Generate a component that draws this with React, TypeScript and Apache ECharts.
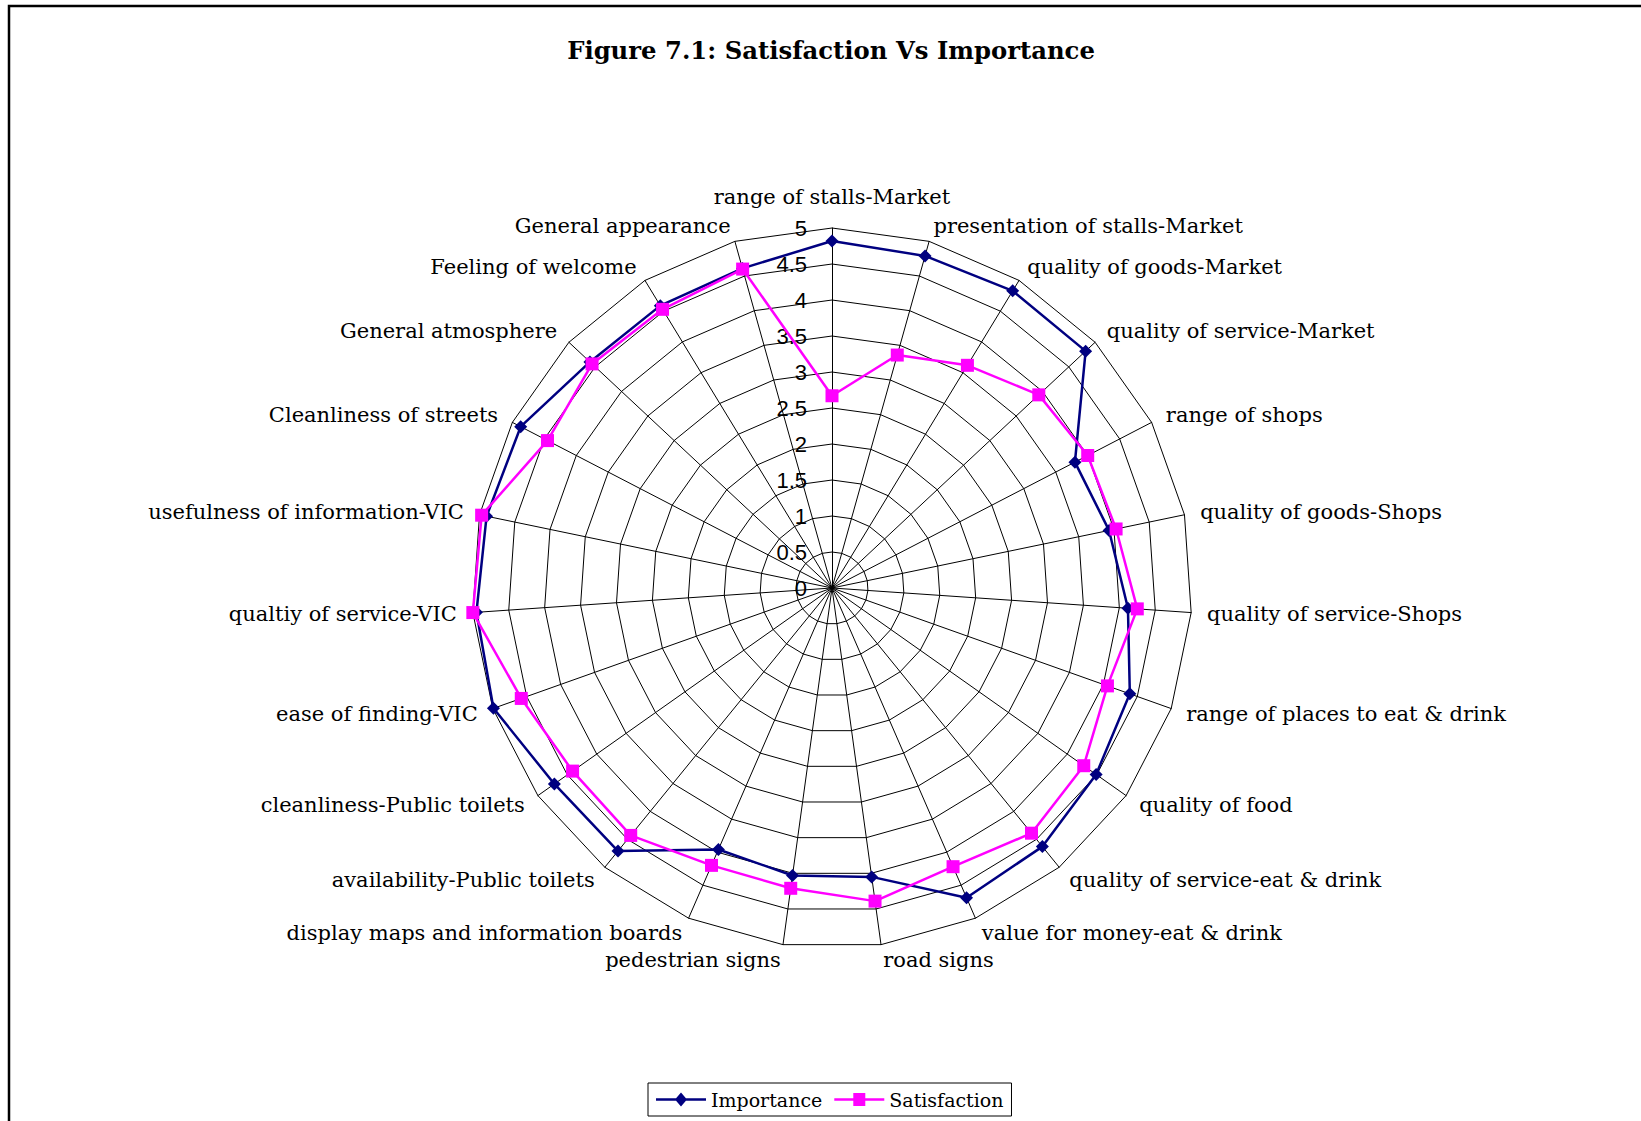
import React, { useEffect, useRef } from "react";
import * as echarts from "echarts";

const title = "Figure 7.1: Satisfaction Vs Importance";

// categories in clockwise order starting at the top
const categories = [
  "range of stalls-Market",
  "presentation of stalls-Market",
  "quality of goods-Market",
  "quality of service-Market",
  "range of shops",
  "quality of goods-Shops",
  "quality of service-Shops",
  "range of places to eat & drink",
  "quality of food",
  "quality of service-eat & drink",
  "value for money-eat & drink",
  "road signs",
  "pedestrian signs",
  "display maps and information boards",
  "availability-Public toilets",
  "cleanliness-Public toilets",
  "ease of finding-VIC",
  "qualtiy of service-VIC",
  "usefulness of information-VIC",
  "Cleanliness of streets",
  "General atmosphere",
  "Feeling of welcome",
  "General appearance",
];

const importance = [
  4.82, 4.79, 4.83, 4.82, 3.8, 3.93, 4.12, 4.39, 4.49, 4.63, 4.69, 4.05, 4.03,
  3.96, 4.71, 4.72, 4.99, 4.95, 4.9, 4.87, 4.6, 4.59, 4.61,
];

const satisfaction = [
  2.67, 3.36, 3.62, 3.93, 4.0, 4.03, 4.25, 4.06, 4.28, 4.39, 4.22, 4.39, 4.21,
  4.2, 4.43, 4.41, 4.58, 5.0, 4.97, 4.45, 4.56, 4.53, 4.6,
];

const seriesNames = ["Importance", "Satisfaction"];
const axisMin = 0;
const axisMax = 5;
const axisInterval = 0.5;

// ECharts places radar indicators counter-clockwise; reorder to get clockwise
const toCcw = <T,>(arr: T[]): T[] => [arr[0], ...arr.slice(1).reverse()];

// legend icons: line with a diamond / a square in the middle
const diamondIcon =
  "path://M0,5.75 L20.07,5.75 L25,0 L29.93,5.75 L50,5.75 L50,8.25 L29.93,8.25 L25,14 L20.07,8.25 L0,8.25 Z";
const squareIcon =
  "path://M0,5.75 L19,5.75 L19,0.5 L31,0.5 L31,5.75 L50,5.75 L50,8.25 L31,8.25 L31,13.5 L19,13.5 L19,8.25 L0,8.25 Z";

export default function App() {
  const ref = useRef<HTMLDivElement>(null);

  useEffect(() => {
    if (!ref.current) return;
    const chart = echarts.init(ref.current, undefined, { renderer: "svg" });

    const cats = toCcw(categories);
    const indicator = cats.map((name, i) => {
      const ind: any = { name, min: axisMin, max: axisMax };
      if (i === 0) {
        ind.nameGap = 21;
      } else {
        ind.axisLabel = { show: false };
      }
      return ind;
    });

    const serif = "'DejaVu Serif', serif";

    chart.setOption({
      animation: false,
      backgroundColor: "#ffffff",
      title: {
        text: title,
        left: 826,
        textAlign: "center",
        top: 33,
        textStyle: {
          fontFamily: serif,
          fontWeight: "bold",
          fontSize: 24.3,
          color: "#000",
        },
      },
      graphic: [
        {
          type: "rect",
          shape: { x: 9, y: 6, width: 1700, height: 1200 },
          style: { fill: "none", stroke: "#000", lineWidth: 2.5 },
          silent: true,
        },
      ],
      legend: {
        data: [
          { name: seriesNames[0], icon: diamondIcon },
          { name: seriesNames[1], icon: squareIcon },
        ],
        left: 648,
        top: 1083,
        orient: "horizontal",
        borderColor: "#000",
        borderWidth: 1,
        borderRadius: 0,
        padding: [7, 8, 7, 8],
        itemWidth: 50,
        itemHeight: 14,
        itemGap: 12,
        textStyle: { fontFamily: serif, fontSize: 19, color: "#000" },
      },
      radar: {
        center: [832, 588],
        radius: 360,
        startAngle: 90,
        shape: "polygon",
        splitNumber: (axisMax - axisMin) / axisInterval,
        indicator,
        axisName: {
          color: "#000",
          fontFamily: serif,
          fontSize: 21,
        },
        nameGap: 16,
        axisLine: { lineStyle: { color: "#000", width: 1 } },
        splitLine: { lineStyle: { color: "#000", width: 1 } },
        splitArea: { show: false },
        axisTick: { show: false },
        axisLabel: {
          show: true,
          margin: 25,
          color: "#000",
          fontFamily: "'Liberation Sans', Arial, sans-serif",
          fontSize: 22,
        },
      },
      series: [
        {
          type: "radar",
          data: [
            {
              name: seriesNames[0],
              value: toCcw(importance),
              symbol: "diamond",
              symbolSize: 13,
              lineStyle: { color: "#000080", width: 2.5 },
              itemStyle: { color: "#000080" },
            },
            {
              name: seriesNames[1],
              value: toCcw(satisfaction),
              symbol: "rect",
              symbolSize: 13,
              lineStyle: { color: "#FF00FF", width: 2.5 },
              itemStyle: { color: "#FF00FF" },
            },
          ],
        },
      ],
    });

    return () => chart.dispose();
  }, []);

  return (
    <div
      ref={ref}
      style={{ position: "absolute", left: 0, top: 0, width: 1641, height: 1121 }}
    />
  );
}
